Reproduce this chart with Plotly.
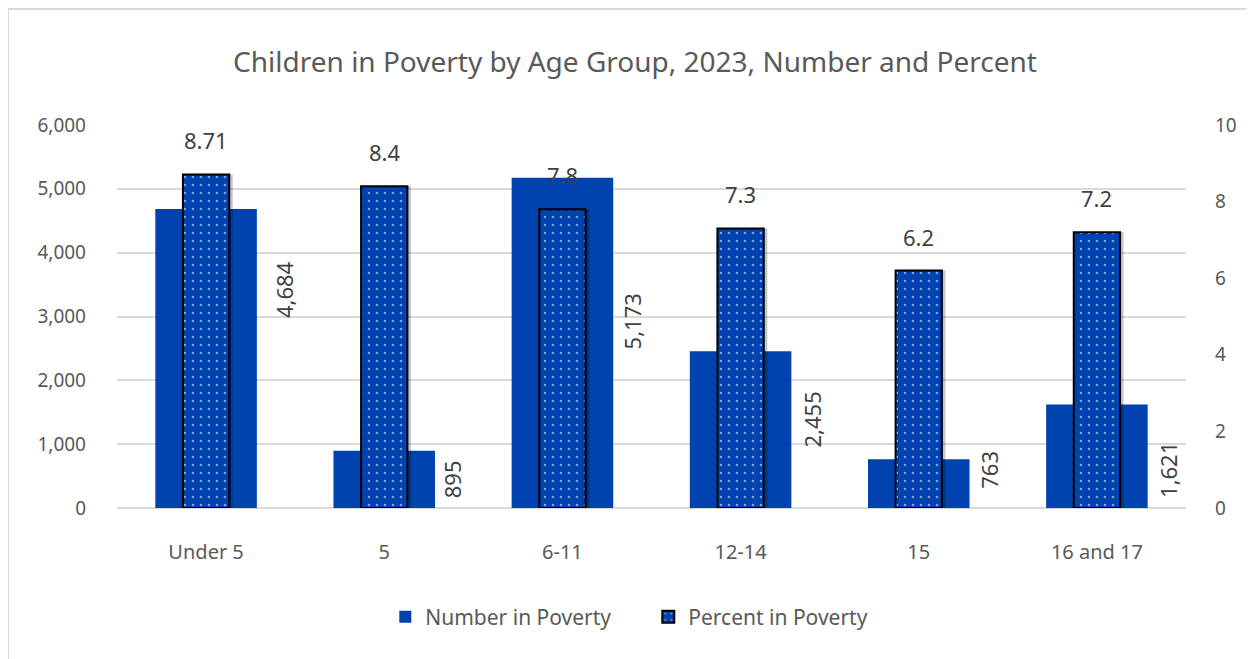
import plotly.graph_objects as go

categories = ["Under 5", "5", "6-11", "12-14", "15", "16 and 17"]
number_in_poverty = [4684, 895, 5173, 2455, 763, 1621]
percent_in_poverty = [8.71, 8.4, 7.8, 7.3, 6.2, 7.2]
percent_text = ["8.71", "8.4", "7.8", "7.3", "6.2", "7.2"]

blue = "#0043b0"
grey_text = "#595959"
label_text = "#404040"
font_family = "Noto Sans, Open Sans, sans-serif"

fig = go.Figure()

fig.add_trace(go.Bar(
    x=categories, y=number_in_poverty,
    name="Number in Poverty",
    marker=dict(color=blue, line=dict(width=0)),
    width=0.57,
    yaxis="y",
))

# soft shadow behind the dotted bars
fig.add_trace(go.Bar(
    x=categories, y=percent_in_poverty,
    marker=dict(color="rgba(0,0,0,0.22)", line=dict(width=0)),
    width=0.26, offset=-0.11,
    yaxis="y2", showlegend=False, hoverinfo="skip",
))

fig.add_trace(go.Bar(
    x=categories, y=percent_in_poverty,
    name="Percent in Poverty",
    marker=dict(
        color=blue,
        line=dict(color="#000000", width=2),
        pattern=dict(shape=".", fgcolor="white", bgcolor=blue, size=8, solidity=0.08),
    ),
    width=0.26,
    yaxis="y2",
))

# number labels, rotated to the right of each bar (Excel style placement)
# category axis: annotations use the category index
num_label_y = [3415, 455, 2930, 1380, 595, 595]
num_label_dx = [78, 68, 70, 71, 70, 71]
for i, (val, ly, dx) in enumerate(zip(number_in_poverty, num_label_y, num_label_dx)):
    fig.add_annotation(
        x=i, y=ly, xref="x", yref="y",
        text=f"{val:,}", textangle=-90, showarrow=False,
        xshift=dx, font=dict(size=22, color=label_text, family=font_family),
    )

# percent labels above the dotted bars
for i, (val, txt) in enumerate(zip(percent_in_poverty, percent_text)):
    fig.add_annotation(
        x=i, y=val, xref="x", yref="y2",
        text=txt, showarrow=False, yanchor="middle",
        yshift=34, font=dict(size=22, color=label_text, family=font_family),
    )

# light chart border (only left/top edges fall inside the window)
fig.add_shape(type="rect", xref="paper", yref="paper",
              x0=-0.102, x1=1.3, y0=-0.6, y1=1.303,
              line=dict(color="#d9d9d9", width=2), layer="below")

fig.update_layout(
    title=dict(
        text="Children in Poverty by Age Group, 2023, Number and Percent",
        x=0.5, xanchor="center", y=0.918, yanchor="middle",
        font=dict(size=28, color=grey_text, family=font_family),
    ),
    barmode="overlay",
    width=1254, height=659,
    margin=dict(l=109, r=76, t=117, b=159),
    paper_bgcolor="white",
    plot_bgcolor="white",
    font=dict(family=font_family, color=grey_text),
    xaxis=dict(
        type="category", range=[-0.5, 5.5],
        showgrid=False, showline=False, ticks="",
        tickfont=dict(size=20, color=grey_text),
        ticklabelstandoff=30,
    ),
    yaxis=dict(
        range=[0, 6000], dtick=1000, tickformat=",d",
        showgrid=True, gridcolor="#d9d9d9", gridwidth=1.5,
        zeroline=True, zerolinecolor="#d9d9d9", zerolinewidth=1.5,
        tickfont=dict(size=19, color=grey_text),
        ticklabelstandoff=30,
    ),
    yaxis2=dict(
        range=[0, 10], dtick=2, overlaying="y", side="right",
        showgrid=False, zeroline=False,
        tickfont=dict(size=19, color=grey_text),
        ticklabelstandoff=28,
    ),
    legend=dict(
        orientation="h", x=0.497, xanchor="center", y=-0.285, yanchor="middle",
        font=dict(size=21, color=grey_text, family=font_family),
        itemwidth=30, traceorder="normal",
        entrywidth=218, entrywidthmode="pixels",
    ),
    showlegend=True,
)

fig.write_html("out.html")
